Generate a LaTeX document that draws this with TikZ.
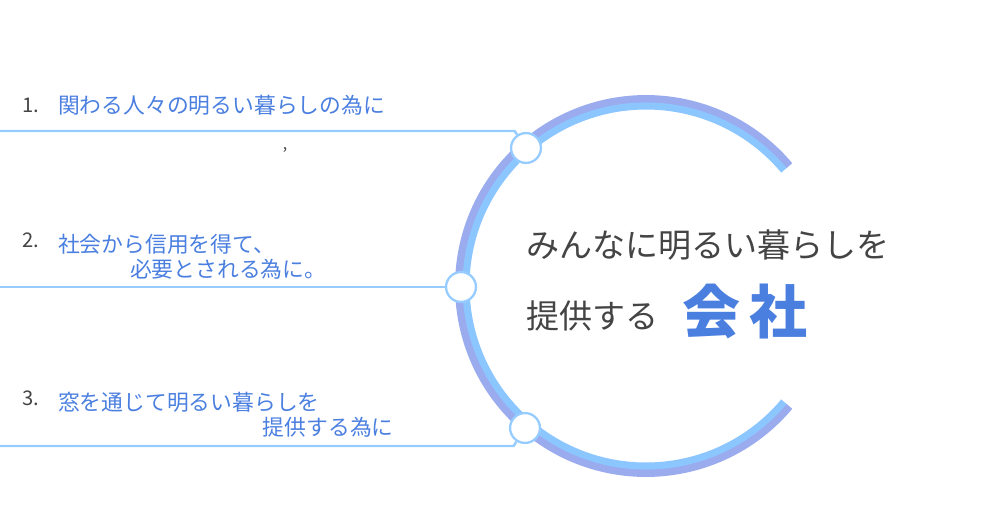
\documentclass[tikz,border=0pt]{standalone}
\usepackage{fontspec}
\setmainfont{Noto Sans CJK JP}
\usetikzlibrary{positioning}
\definecolor{itemblue}{HTML}{4A7FE0}
\definecolor{ringout}{HTML}{9AABEE}
\definecolor{ringin}{HTML}{8CC6FF}
\definecolor{linkblue}{HTML}{96CCFF}
\definecolor{darktext}{HTML}{444444}
\definecolor{glow}{HTML}{C4D0F6}
\pgfdeclareradialshading{discglow}{\pgfpoint{0bp}{0bp}}{%
  color(0bp)=(white); color(34bp)=(white); color(44bp)=(white!60!glow); color(50bp)=(glow); color(100bp)=(glow)}
\tikzset{
  item/.style={anchor=west,text=itemblue,font=\fontsize{12.4}{14.4}\selectfont,align=left},
  num/.style={anchor=west,text=darktext,font=\fontsize{11.5}{13}\selectfont},
  knob/.style={circle,draw=linkblue,fill=white,line width=1.3pt,minimum size=17pt,inner sep=0pt},
  link/.style={draw=linkblue,line width=1.4pt}
}
\begin{document}
\begin{tikzpicture}[x=0.02cm,y=-0.02cm]
  \useasboundingbox (0,0) rectangle (1000,521);
  % centre disc
  \begin{scope}
    \clip (646,286) -- ++(40:182) arc[start angle=40,end angle=320,radius=182] -- cycle;
    \shade[shading=discglow] (646,286) circle (180);
  \end{scope}
  % ring
  \draw[ringout,line width=4.5pt] (646,286) ++(40:187) arc[start angle=40,end angle=320,radius=187];
  \draw[ringin,line width=4pt] (646,286) ++(40:180) arc[start angle=40,end angle=320,radius=180];
  % knobs and links
  \node[knob] (k1) at (526,148) {};
  \node[knob] (k2) at (461,287) {};
  \node[knob] (k3) at (525,428) {};
  \coordinate (e1) at (0,131);
  \coordinate (e2) at (0,287);
  \coordinate (e3) at (0,446);
  \draw[link] (e1) -- (k1.north west |- e1) -- (k1);
  \draw[link] (e2) -- (k2);
  \draw[link] (e3) -- (k3.south west |- e3) -- (k3);
  % items
  \node[num] (n1) at (16,105) {1.};
  \node[item] (t1) at (52,105) {関わる人々の明るい暮らしの為に};
  \node[text=darktext,font=\small] (dot) at (285,150) {,};
  \node[num] (n2) at (16,240) {2.};
  \node[item,anchor=north west] (t2) at (52,228) {社会から信用を得て、\\\hspace*{3.3em}必要とされる為に。};
  \node[num] (n3) at (16,398) {3.};
  \node[item,anchor=north west] (t3) at (52,386) {窓を通じて明るい暮らしを\\\hspace*{9.4em}提供する為に};
  % centre text
  \node[anchor=west,text=darktext,font=\fontsize{18.8}{22}\selectfont] (c1) at (520,245) {みんなに明るい暮らしを};
  \node[anchor=west,text=darktext,font=\fontsize{18.8}{22}\selectfont] (c2) at (520,316) {提供する};
  \node[anchor=west,text=itemblue,font=\fontsize{33}{36}\selectfont\bfseries] (c3) at (676,312) {会\,社};
\end{tikzpicture}
\end{document}
